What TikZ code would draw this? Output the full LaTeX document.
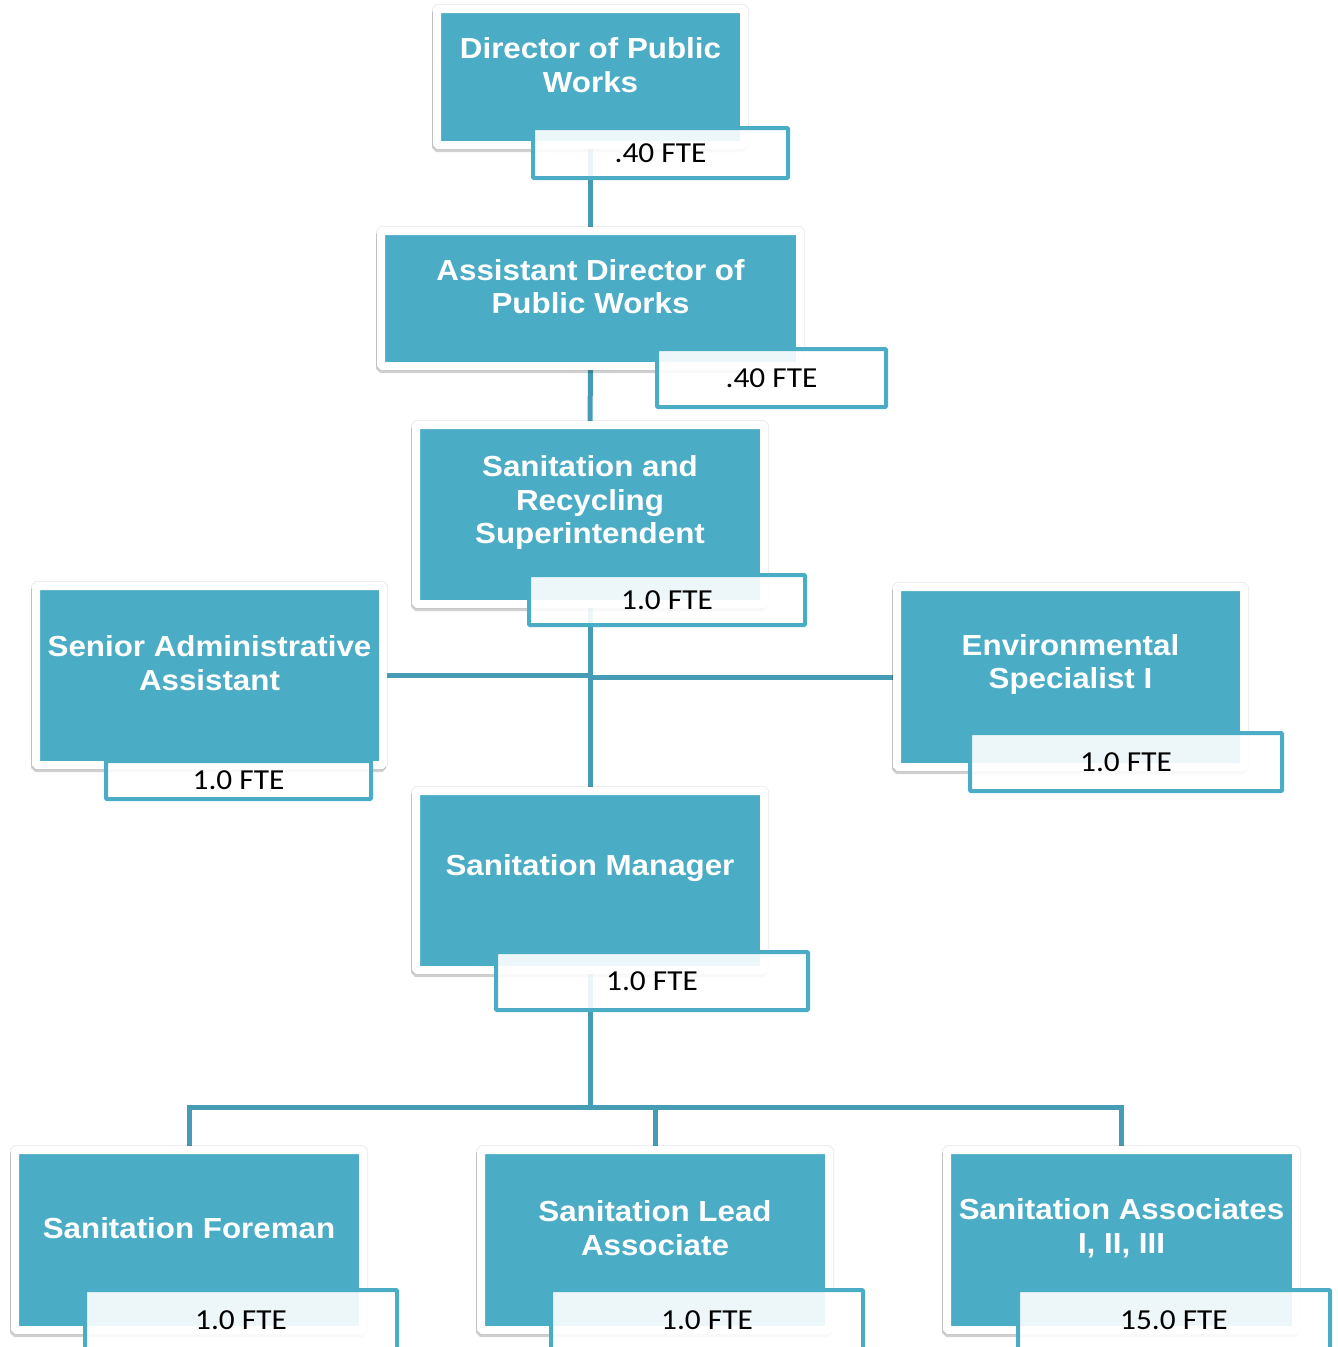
\documentclass[tikz,border=0pt]{standalone}
\usepackage{fontspec}
\newfontfamily\titlefont[FakeStretch=1.08]{Liberation Sans}
\newfontfamily\ftefont[FakeStretch=1.08]{Carlito}
\usepackage{tikz}
\definecolor{boxteal}{HTML}{4BACC6}
\definecolor{lineteal}{HTML}{469CB4}
\pgfdeclarelayer{bg}
\pgfsetlayers{bg,main}
\tikzset{
    role/.style={
        fill=boxteal, draw=white, line width=8pt, rounded corners=1.5pt,
        inner sep=0pt, minimum width=#1,
        preaction={draw=black, draw opacity=0.07, line width=10pt},
        preaction={draw=black, draw opacity=0.18, line width=8pt,
            transform canvas={shift={(-0.8pt,-3pt)}}}
    },
    title/.style={
        text=white, align=center,
        font=\titlefont\bfseries\fontsize{29}{33.5}\selectfont
    },
    fte/.style={
        draw=boxteal, line width=4pt, fill=white, fill opacity=0.9,
        text opacity=1, rounded corners=1pt, inner sep=0pt,
        font=\ftefont\fontsize{29}{33}\selectfont
    },
    link/.style={draw=lineteal, line width=5pt}
}

\begin{document}
\begin{tikzpicture}[x=1pt,y=-1pt]
		\useasboundingbox (0,0) rectangle (1338,1347);
		
		% Director of Public Works
		\node [role=307, minimum height=136] (dir) at (590.5,77) {};
		\node [title] (dirT) at ([yshift=12pt]dir.center) {Director of Public\\Works};
		\node [fte, minimum width=255, minimum height=50] (dirF) at (660.5,153) {.40 FTE};
		
		% Assistant Director
		\node [role=419, minimum height=135] (asst) at (590.5,298.5) {};
		\node [title] (asstT) at ([yshift=12pt]asst.center) {Assistant Director of\\Public Works};
		\node [fte, minimum width=229, minimum height=58] (asstF) at (771.5,378) {.40 FTE};
		
		% Superintendent
		\node [role=348, minimum height=179] (sup) at (590,514.5) {};
		\node [title] (supT) at ([yshift=12pt]sup.center) {Sanitation and\\Recycling\\Superintendent};
		\node [fte, minimum width=276, minimum height=50] (supF) at (667,600) {1.0 FTE};
		
		% Senior Administrative Assistant
		\node [role=347, minimum height=179] (sadmin) at (209.5,675.5) {};
		\node [title] (sadminT) at ([yshift=12.5pt]sadmin.center) {Senior Administrative\\Assistant};
		\node [fte, minimum width=265, minimum height=38] (sadminF) at (238.5,780) {1.0 FTE};
		
		% Environmental Specialist
		\node [role=347, minimum height=180] (env) at (1070.5,677) {};
		\node [title] (envT) at ([yshift=12.5pt]env.center) {Environmental\\Specialist I};
		\node [fte, minimum width=312, minimum height=58] (envF) at (1126,762) {1.0 FTE};
		
		% Sanitation Manager
		\node [role=348, minimum height=179] (mgr) at (590,880.5) {};
		\node [title] (mgrT) at ([yshift=12pt]mgr.center) {Sanitation Manager};
		\node [fte, minimum width=312, minimum height=58] (mgrF) at (652,981) {1.0 FTE};
		
		% Sanitation Foreman
		\node [role=348, minimum height=180] (foreman) at (189,1240) {};
		\node [title] (foremanT) at ([yshift=12pt]foreman.center) {Sanitation Foreman};
		\node [fte, minimum width=312, minimum height=60] (foremanF) at (241,1320) {1.0 FTE};
		
		% Sanitation Lead Associate
		\node [role=348, minimum height=180] (lead) at (655,1240) {};
		\node [title] (leadT) at ([yshift=12pt]lead.center) {Sanitation Lead\\Associate};
		\node [fte, minimum width=312, minimum height=60] (leadF) at (707,1320) {1.0 FTE};
		
		% Sanitation Associates
		\node [role=349, minimum height=180] (assoc) at (1121.5,1240) {};
		\node [title] (assocT) at ([yshift=12pt]assoc.center) {Sanitation Associates\\I, II, III};
		\node [fte, minimum width=312, minimum height=60] (assocF) at (1174,1320) {15.0 FTE};
		
		% Connectors
		\begin{pgfonlayer}{bg}
			\draw [link] (dir.south) -- (asst.north);
			\draw [link] (asst.south) -- (sup.north);
			\draw [link] (sup.south) -- (mgr.north);
			\draw [link] (sadmin.east) -- (sadmin.east -| sup.south);
			\draw [link] (env.west) -- (env.west -| sup.south);
			\coordinate (bus) at (590,1107);
			\draw [link] (mgr.south) -- (bus);
			\draw [link] (foreman.north) |- (bus);
			\draw [link] (lead.north) |- (bus);
			\draw [link] (assoc.north) |- (bus);
		\end{pgfonlayer}
		
	\end{tikzpicture}
\end{document}
